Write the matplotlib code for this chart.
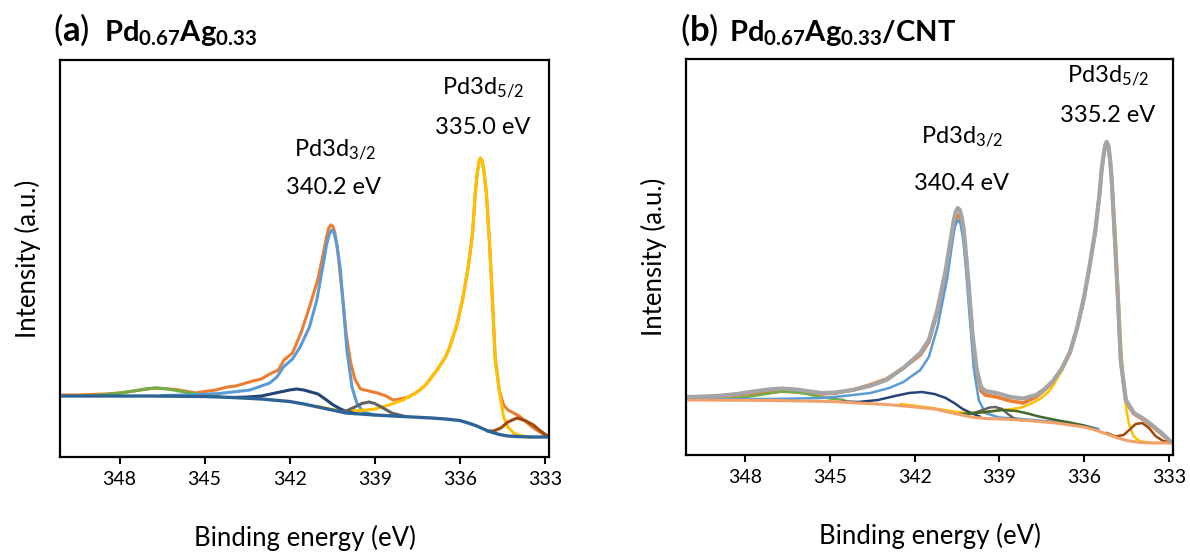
import matplotlib
matplotlib.use("Agg")
import matplotlib.pyplot as plt

plt.rcParams['font.family'] = ['Lato', 'DejaVu Sans']
plt.rcParams['mathtext.fontset'] = 'custom'
plt.rcParams['mathtext.rm'] = 'Lato'
plt.rcParams['mathtext.bf'] = 'Lato:bold'
plt.rcParams['mathtext.it'] = 'Lato:italic'

# ---------------- panel (a): Pd0.67Ag0.33 ----------------
a_bg_e = [350.0, 347.0, 345.0, 344.0, 343.0, 342.0, 341.5, 341.0, 340.5, 340.0, 339.5, 339.0,
          338.0, 337.0, 336.5, 336.0, 335.7, 335.4, 335.0, 334.6, 334.3, 334.0, 333.5, 332.9]
a_bg = [61, 61, 60.5, 59.5, 58, 55.5, 53, 50, 47, 44, 43, 42,
        40.5, 39, 38, 36.5, 34, 31, 26, 22.5, 21, 20.5, 20, 20]

a_exp_e = [350.0, 349.5, 349.0, 348.5, 348.0, 347.5, 347.0, 346.7, 346.3, 346.0, 345.6, 345.3,
           345.0, 344.6, 344.2, 343.9, 343.6, 343.3, 343.0, 342.7, 342.4, 342.2, 341.9, 341.6,
           341.3, 341.0, 340.8, 340.7, 340.62, 340.55, 340.48, 340.4, 340.3, 340.15, 340.0, 339.85,
           339.7, 339.5, 339.2, 338.9, 338.6, 338.35, 338.1, 337.8, 337.5, 337.2, 336.8, 336.5,
           336.35, 336.1, 335.9, 335.7, 335.55, 335.45, 335.38, 335.32, 335.27, 335.21, 335.15, 335.06,
           334.95, 334.85, 334.75, 334.6, 334.45, 334.3, 334.1, 333.9, 333.7, 333.4, 333.0]
a_exp = [62, 62, 62.5, 63, 64, 66, 68, 69, 68, 67.5, 65.5, 64,
         65.5, 67, 70, 71, 73.5, 76, 78, 83, 87, 97, 104, 124,
         150, 178, 205, 220, 229, 232, 231, 224, 205, 165, 122, 95,
         78, 68, 66, 64, 61, 57, 58, 60, 65, 72, 87, 100,
         110, 132, 157, 190, 222, 264, 284, 295, 299, 296, 287, 264,
         215, 160, 100, 66, 52, 47, 44, 41, 36, 29, 22]

a_p32_e = [346.5, 345.5, 344.5, 344.0, 343.4, 342.7, 342.45, 342.22, 341.9, 341.63, 341.3, 341.04,
           340.8, 340.7, 340.6, 340.51, 340.43, 340.33, 340.22, 340.1, 339.98, 339.8, 339.63, 339.4,
           339.0]
a_p32 = [61.5, 62, 63.5, 65, 67, 74, 80, 90, 98, 110, 130, 157,
         195, 212, 223, 227, 224, 212, 190, 150, 107, 70, 54, 45,
         42]

a_p52_e = [341.0, 340.5, 340.0, 339.5, 339.0, 338.5, 338.0, 337.5, 337.2, 336.8, 336.5, 336.35,
           336.1, 335.9, 335.7, 335.55, 335.45, 335.38, 335.32, 335.27, 335.21, 335.15, 335.06, 334.95,
           334.85, 334.75, 334.57, 334.45, 334.3, 334.1, 333.9, 333.5]
a_p52 = [50.5, 47.5, 46, 46.5, 48, 52, 57, 65, 72, 87, 100, 110,
         132, 157, 190, 222, 264, 284, 295, 299, 296, 287, 264, 215,
         160, 97, 60, 40, 30, 24, 21.5, 20]

a_sat1_e = [344.0, 343.5, 343.0, 342.5, 342.0, 341.75, 341.5, 341.0, 340.7, 340.46, 340.2, 340.0, 339.7]
a_sat1 = [59.5, 60, 61, 64, 67, 68, 67, 63, 57, 52, 48, 45.5, 43.5]

a_sat2_e = [340.2, 340.0, 339.7, 339.45, 339.2, 339.0, 338.7, 338.4, 338.0]
a_sat2 = [45.5, 46, 50, 53.5, 55, 53.5, 49, 44, 41]

a_sat3_e = [335.0, 334.8, 334.55, 334.3, 333.98, 333.7, 333.4, 333.15, 332.95]
a_sat3 = [26, 26, 29, 35, 39, 36.5, 32, 26, 22]

a_sat4_e = [349.0, 348.5, 348.0, 347.5, 347.0, 346.7, 346.3, 345.9, 345.5, 345.0, 344.5]
a_sat4 = [61.5, 62.5, 64, 66, 68.5, 69, 68, 66, 64, 62, 61]

# ---------------- panel (b): Pd0.67Ag0.33/CNT ----------------
b_bg_e = [350.0, 347.0, 345.0, 344.0, 343.0, 342.0, 341.3, 340.5, 340.0, 339.5, 338.9, 338.0,
          337.0, 336.5, 336.0, 335.6, 335.2, 334.8, 334.4, 334.0, 333.5, 332.9]
b_bg = [55, 54.5, 53.5, 52, 50.5, 48, 46, 41, 38, 36.5, 36, 34.5,
        32, 30, 28, 25, 21, 17, 14, 12.5, 12, 12]

b_fit_e = [350.0, 349.0, 348.3, 347.7, 347.2, 346.7, 346.2, 345.7, 345.3, 344.8, 344.2, 343.6,
           343.0, 342.4, 341.8, 341.5, 341.2, 340.9, 340.7, 340.62, 340.55, 340.47, 340.4, 340.32,
           340.26, 340.1, 339.95, 339.8, 339.65, 339.5, 339.1, 338.6, 338.15, 337.7, 337.4, 337.1,
           336.8, 336.5, 336.25, 336.0, 335.8, 335.6, 335.45, 335.38, 335.3, 335.25, 335.2, 335.14,
           335.08, 335.02, 334.93, 334.81, 334.7, 334.52, 334.23, 333.88, 333.6, 333.25, 332.95]
b_fit = [58, 59, 61, 63.5, 65.5, 66.5, 65.5, 63.5, 62, 62.5, 65, 69,
         75, 87, 102, 115, 145, 185, 220, 234, 243, 247, 245, 236,
         225, 175, 120, 85, 68, 64, 62, 58, 56.5, 60, 66, 74,
         86, 103, 127, 158, 190, 225, 262, 285, 302, 310, 313, 309,
         296, 275, 228, 162, 95, 55, 42, 36, 30, 22, 14]

b_exp_e = [350.0, 349.0, 348.3, 347.7, 347.2, 346.7, 346.2, 345.7, 345.3, 344.8, 344.2, 343.6,
           343.0, 342.4, 341.8, 341.5, 341.2, 340.9, 340.7, 340.62, 340.55, 340.47, 340.4, 340.32,
           340.26, 340.1, 339.95, 339.8, 339.65, 339.5, 339.1, 338.6, 338.15, 337.7, 337.4, 337.1,
           336.8, 336.5, 336.25, 336.0, 335.8, 335.6, 335.45, 335.38, 335.3, 335.25, 335.2, 335.14,
           335.08, 335.02, 334.93, 334.81, 334.7, 334.52, 334.23, 333.88, 333.6, 333.25, 332.95]
b_exp = [57, 58, 60, 62, 62, 64, 63, 62, 61, 62, 65, 70,
         76, 87, 100, 113, 142, 182, 215, 228, 236, 240, 238, 230,
         220, 172, 118, 82, 64, 60, 58, 54, 52, 58, 65, 73,
         85, 102, 126, 157, 189, 224, 261, 284, 301, 309, 313, 309,
         295, 274, 227, 161, 94, 53, 41, 35, 29, 21, 13]

b_p32_e = [350.0, 347.0, 345.3, 344.5, 343.57, 342.9, 342.4, 341.8, 341.5, 341.19, 340.84, 340.68,
           340.58, 340.47, 340.38, 340.28, 340.18, 340.08, 339.9, 339.73, 339.5, 339.0, 338.0, 337.0,
           336.0, 335.5]
b_p32 = [56, 56, 57, 59, 62, 67, 73, 85, 98, 128, 178, 210,
         228, 235, 232, 215, 185, 148, 85, 55, 42, 37.5, 35.5, 33,
         29.5, 26]

b_p52_e = [342.5, 341.5, 340.5, 340.08, 339.5, 338.86, 338.27, 337.9, 337.57, 337.3, 337.1, 336.8,
           336.5, 336.25, 336.0, 335.8, 335.6, 335.45, 335.38, 335.3, 335.25, 335.2, 335.14, 335.08,
           334.98, 334.88, 334.78, 334.68, 334.6, 334.5, 334.4, 334.25, 334.05, 333.7, 333.3]
b_p52 = [51, 47.5, 43, 42, 43, 45, 47, 51, 56, 62, 69, 84,
         103, 127, 158, 190, 225, 262, 285, 302, 310, 313, 309, 296,
         262, 218, 160, 105, 72, 45, 30, 19, 14, 12.5, 12]

b_sat1_e = [344.5, 344.0, 343.3, 342.7, 342.2, 341.75, 341.3, 340.9, 340.6, 340.3, 340.0, 339.7]
b_sat1 = [53.5, 53, 55, 59, 62, 63, 61, 57, 52, 46, 42, 38.5]

b_sat2_e = [340.1, 339.85, 339.6, 339.35, 339.15, 338.9, 338.7, 338.5, 338.2]
b_sat2 = [41, 42.5, 45, 47.5, 48, 46, 41, 37, 34.5]

b_sat3_e = [340.4, 340.0, 339.5, 338.9, 338.4, 338.0, 337.6, 337.0, 336.5, 336.0, 335.6]
b_sat3 = [41, 41.5, 43, 45, 44, 41.5, 38.5, 35, 32.5, 29.5, 26]

b_sat4_e = [335.2, 334.88, 334.6, 334.4, 334.17, 333.94, 333.7, 333.47, 333.2, 332.95]
b_sat4 = [22, 18.5, 20, 25, 31, 32, 27, 19, 14, 12.5]

b_sat5_e = [349.0, 348.5, 348.0, 347.5, 347.0, 346.7, 346.3, 345.9, 345.5, 345.0, 344.5]
b_sat5 = [55.5, 56.5, 58, 60, 62.5, 63.5, 63, 61.5, 59, 56.5, 55]

ticks = [348, 345, 342, 339, 336, 333]

W, H = 1190, 556
fig = plt.figure(figsize=(W / 100, H / 100), dpi=100)


def px_box(l, t, r, b):
    return [l / W, 1 - b / H, (r - l) / W, (b - t) / H]


def style_axes(ax):
    ax.set_xlim(350.1, 332.85)
    ax.set_xticks(ticks)
    ax.set_yticks([])
    ax.tick_params(axis='x', direction='out', length=5, width=1.5, labelsize=14, pad=5)
    for s in ax.spines.values():
        s.set_linewidth(1.6)
        s.set_color('black')
    ax.set_xlabel('Binding energy (eV)', fontsize=18.5, labelpad=27)
    ax.set_ylabel('Intensity (a.u.)', fontsize=18.5, labelpad=14)


# panel (a)
ax1 = fig.add_axes(px_box(60, 60, 549, 457))
ax1.plot(a_exp_e, a_exp, color='#ED7D31', lw=2.2)
ax1.plot(a_sat4_e, a_sat4, color='#70AD47', lw=2.2)
ax1.plot(a_p32_e, a_p32, color='#5B9BD5', lw=2.2)
ax1.plot(a_p52_e, a_p52, color='#FFC000', lw=2.2)
ax1.plot(a_sat1_e, a_sat1, color='#264478', lw=2.2)
ax1.plot(a_sat2_e, a_sat2, color='#636363', lw=2.2)
ax1.plot(a_sat3_e, a_sat3, color='#9E480E', lw=2.2)
ax1.plot(a_bg_e, a_bg, color='#2E6495', lw=2.4)
ax1.set_ylim(0, 397)
style_axes(ax1)

# panel (b)
ax2 = fig.add_axes(px_box(686, 59, 1173, 455))
ax2.plot(b_exp_e, b_exp, color='#ED7D31', lw=2.6)
ax2.plot(b_sat5_e, b_sat5, color='#70AD47', lw=1.8)
ax2.plot(b_p32_e, b_p32, color='#5B9BD5', lw=1.8)
ax2.plot(b_p52_e, b_p52, color='#FFC000', lw=1.8)
ax2.plot(b_sat1_e, b_sat1, color='#264478', lw=1.8)
ax2.plot(b_sat2_e, b_sat2, color='#636363', lw=1.8)
ax2.plot(b_sat3_e, b_sat3, color='#43682B', lw=1.8)
ax2.plot(b_sat4_e, b_sat4, color='#9E480E', lw=1.8)
ax2.plot(b_bg_e, b_bg, color='#F1A26B', lw=2.2)
ax2.plot(b_fit_e, b_fit, color='#A5A5A5', lw=3.0)
ax2.set_ylim(0, 396)
style_axes(ax2)


def ftext(x, y, s, **kw):
    fig.text(x / W, 1 - y / H, s, **kw)


# panel titles
ftext(53, 30, r'($\mathbf{a}$)', fontsize=25, va='center', ha='left')
ftext(104, 33, r'Pd$_{\mathbf{0.67}}$Ag$_{\mathbf{0.33}}$', fontsize=21, fontweight='bold', va='center', ha='left')
ftext(680, 30, r'($\mathbf{b}$)', fontsize=25, va='center', ha='left')
ftext(729, 33, r'Pd$_{\mathbf{0.67}}$Ag$_{\mathbf{0.33}}$/CNT', fontsize=21, fontweight='bold', va='center', ha='left')

# peak labels
lab = dict(fontsize=17, ha='center', va='center')
ftext(335, 150, r'Pd3d$_{3/2}$', **lab)
ftext(333, 188, '340.2 eV', **lab)
ftext(483, 88, r'Pd3d$_{5/2}$', **lab)
ftext(483, 128, '335.0 eV', **lab)
ftext(962, 137, r'Pd3d$_{3/2}$', **lab)
ftext(962, 183, '340.4 eV', **lab)
ftext(1108, 76, r'Pd3d$_{5/2}$', **lab)
ftext(1108, 115, '335.2 eV', **lab)

fig.savefig('out.png', dpi=100)
